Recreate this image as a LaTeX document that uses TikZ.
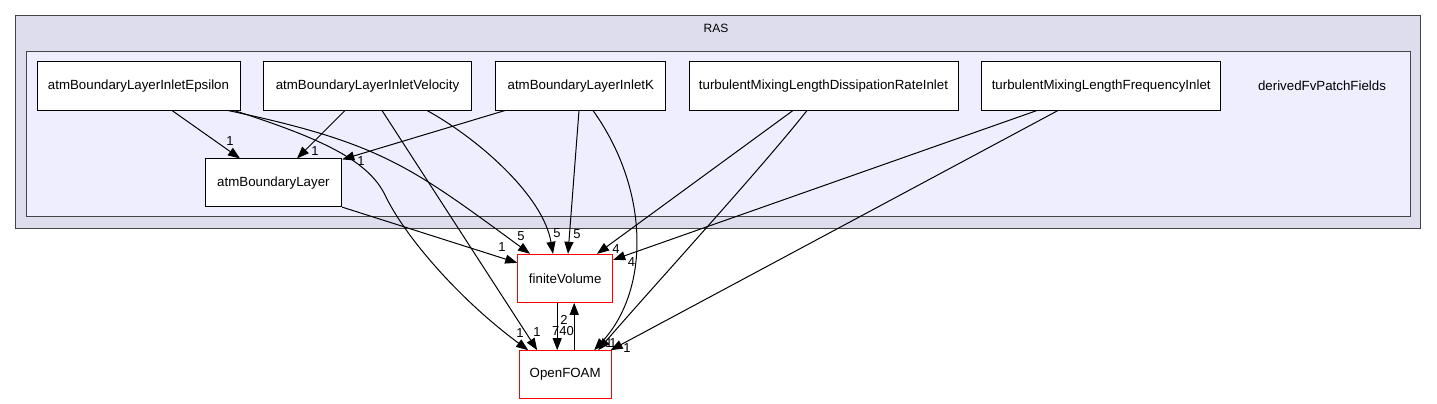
\documentclass[tikz,border=0pt]{standalone}
\usepackage{fontspec}
\setmainfont{Liberation Sans}
\usetikzlibrary{arrows.meta}
\definecolor{outerfill}{HTML}{DDDDEE}
\definecolor{innerfill}{HTML}{EEEEFF}
\definecolor{clborder}{HTML}{444444}
\tikzset{
  dnode/.style={draw=black, fill=white, line width=1pt, minimum height=48pt, inner sep=0pt, font=\fontsize{13.3}{16}\selectfont},
  rnode/.style={dnode, draw=red},
  edge/.style={draw=black, line width=1pt, -{Triangle[length=12pt,width=9pt]}},
  lab/.style={inner sep=0pt, font=\fontsize{13}{15}\selectfont},
}
\begin{document}
\begin{tikzpicture}[x=1pt,y=-1pt]
\useasboundingbox (0,0) rectangle (1437,404);
% clusters
\draw[clborder, fill=outerfill, line width=1.4pt] (15.7,15.7) rectangle (1420.7,228.3);
\node[inner sep=0pt, font=\fontsize{12}{14}\selectfont] (raslabel) at (716,28) {RAS};
\draw[clborder, fill=innerfill, line width=1.4pt] (26.7,51.7) rectangle (1410.7,216.7);
\node[inner sep=0pt, font=\fontsize{13.3}{16}\selectfont] (dfvlabel) at (1322,86) {derivedFvPatchFields};
% nodes
\node[dnode, minimum width=203pt] (eps) at (138.5,86) {atmBoundaryLayerInletEpsilon};
\node[dnode, minimum width=208.4pt] (vel) at (367.5,86) {atmBoundaryLayerInletVelocity};
\node[dnode, minimum width=169.7pt] (atmK) at (580.8,86) {atmBoundaryLayerInletK};
\node[dnode, minimum width=269pt] (tmd) at (823.5,86) {turbulentMixingLengthDissipationRateInlet};
\node[dnode, minimum width=239pt] (tmf) at (1101.2,86) {turbulentMixingLengthFrequencyInlet};
\node[dnode, minimum width=136.7pt, minimum height=47.7pt] (abl) at (273.4,182.8) {atmBoundaryLayer};
\node[rnode, minimum width=95pt] (fv) at (565.2,278.3) {finiteVolume};
\node[rnode, minimum width=91.7pt] (of) at (565.2,374.7) {OpenFOAM};
% edges to atmBoundaryLayer
\draw[edge] ([xshift=33.5pt]eps.south) -- ([xshift=-33.4pt]abl.north);
\draw[edge] ([xshift=-22.5pt]vel.south) -- ([xshift=23.6pt]abl.north);
\draw[edge] ([xshift=-75.8pt]atmK.south) -- ([yshift=-1pt]abl.north east);
% edges to finiteVolume
\draw[edge] ([xshift=89.5pt]eps.south) .. controls (381,143) and (410,166) .. ([xshift=-35.2pt]fv.north);
\draw[edge] ([xshift=59.5pt]vel.south) .. controls (477,138) and (543,195) .. ([xshift=-12.2pt]fv.north);
\draw[edge] ([xshift=-1.8pt]atmK.south) -- ([xshift=2.8pt]fv.north);
\draw[edge] ([xshift=-30.5pt]tmd.south) -- ([xshift=31.8pt]fv.north);
\draw[edge] ([xshift=-64.2pt]tmf.south) -- ([yshift=-6pt]fv.north east);
\draw[edge] (abl.south east) -- ([yshift=-9pt]fv.north west);
% edges to OpenFOAM
\draw[edge] ([xshift=95.5pt]eps.south) .. controls (320,138) and (368,160) .. (385,195)
  .. controls (405,237) and (460,300) .. ([xshift=-37pt]of.north);
\draw[edge] ([xshift=14.5pt]vel.south) -- ([xshift=-28pt]of.north);
\draw[edge] ([xshift=12.2pt]atmK.south) .. controls (650,190) and (650,290) .. ([xshift=29pt]of.north);
\draw[edge] ([xshift=-16.5pt]tmd.south) .. controls (760,170) and (650,290) .. ([xshift=33pt]of.north);
\draw[edge] ([xshift=-43.2pt]tmf.south) -- ([xshift=-1pt]of.north east);
% finiteVolume <-> OpenFOAM
\draw[edge] ([xshift=-8pt]fv.south) -- ([xshift=-8pt]of.north);
\draw[edge] ([xshift=9pt]of.north) -- ([xshift=9pt]fv.south);
% labels
\node[lab] (l1) at (230,141) {1};
\node[lab] (l2) at (315,151) {1};
\node[lab] (l3) at (361,161) {1};
\node[lab] (l4) at (521,236) {5};
\node[lab] (l5) at (557,233) {5};
\node[lab] (l6) at (577,234) {5};
\node[lab] (l7) at (502,247) {1};
\node[lab] (l8) at (616,249) {4};
\node[lab] (l9) at (631.5,262) {4};
\node[lab] (l10) at (520,333) {1};
\node[lab] (l11) at (537,332) {1};
\node[lab] (l12) at (609,343) {1};
\node[lab] (l13) at (613,343) {1};
\node[lab] (l14) at (627,348) {1};
\node[lab] (l15) at (563,331) {740};
\node[lab] (l16) at (564,320) {2};
\end{tikzpicture}
\end{document}
